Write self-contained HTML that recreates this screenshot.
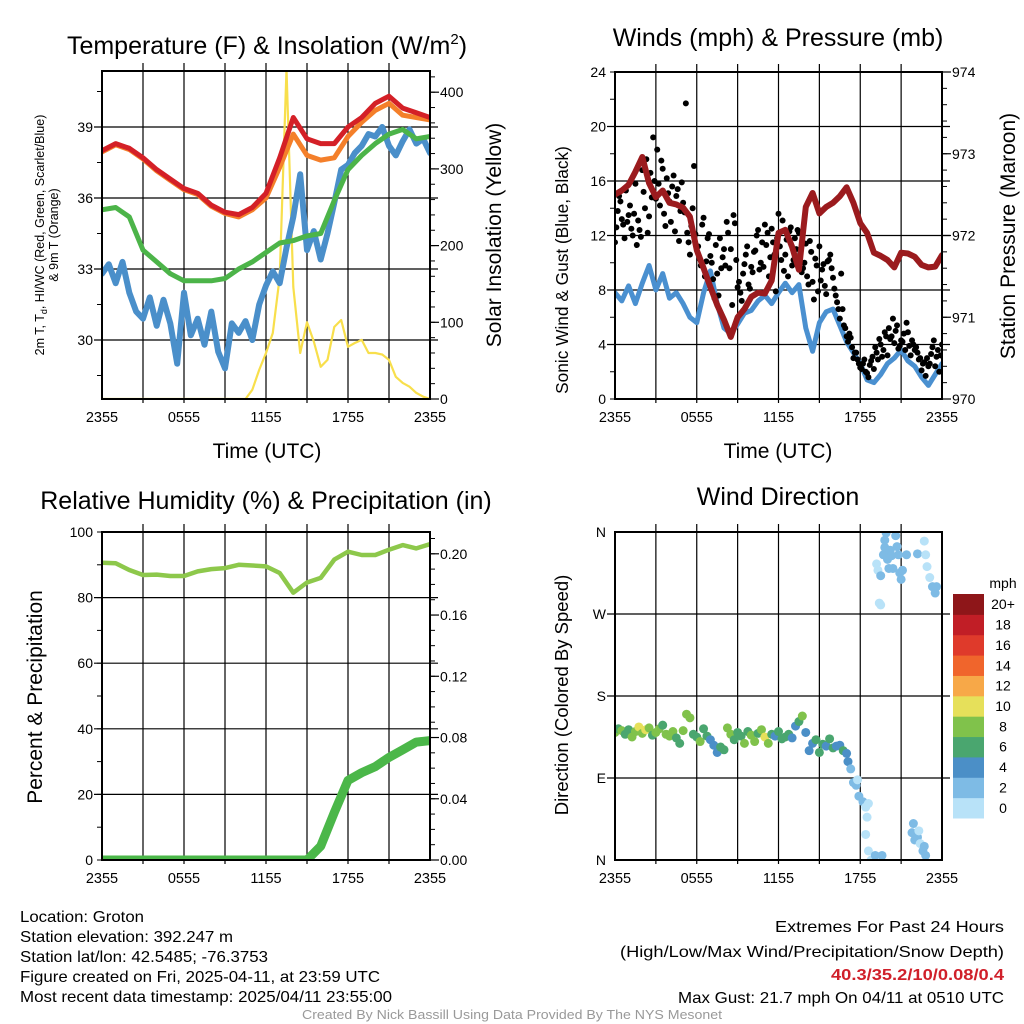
<!DOCTYPE html>
<html><head><meta charset="utf-8"><title>Groton Mesonet Meteogram</title>
<style>
html,body{margin:0;padding:0;background:#fff;}
svg{display:block;font-family:"Liberation Sans",Arial,sans-serif;}
</style></head>
<body>
<svg id="chart" xmlns="http://www.w3.org/2000/svg" width="1024" height="1024" viewBox="0 0 1024 1024">
<rect x="0" y="0" width="1024" height="1024" fill="#fff"/>
<defs>
<clipPath id="c1"><rect x="102" y="71" width="328" height="328"/></clipPath>
<clipPath id="c2"><rect x="615" y="72" width="327" height="327"/></clipPath>
<clipPath id="c3"><rect x="102" y="532" width="328" height="328"/></clipPath>
<clipPath id="c4"><rect x="615" y="532" width="327" height="328"/></clipPath>
</defs>
<g id="g1"></g>
<g id="g2"></g>
<g id="g3"></g>
<g id="g4"></g>

<text x="267" y="54" font-size="25" text-anchor="middle">Temperature (F) &amp; Insolation (W/m<tspan font-size="15" dy="-10">2</tspan><tspan dy="10">)</tspan></text>
<text x="778" y="46" font-size="25" text-anchor="middle">Winds (mph) &amp; Pressure (mb)</text>
<text x="266" y="509" font-size="25" text-anchor="middle">Relative Humidity (%) &amp; Precipitation (in)</text>
<text x="778" y="505" font-size="25" text-anchor="middle">Wind Direction</text>

<text x="267" y="458" font-size="21" text-anchor="middle">Time (UTC)</text>
<text x="778" y="458" font-size="21" text-anchor="middle">Time (UTC)</text>

<text transform="translate(44,235) rotate(-90)" font-size="12.5" text-anchor="middle">2m T, T<tspan font-size="9" dy="3">d</tspan><tspan dy="-3">, HI/WC (Red, Green, Scarlet/Blue)</tspan></text>
<text transform="translate(58,235) rotate(-90)" font-size="12.5" text-anchor="middle">&amp; 9m T (Orange)</text>
<text transform="translate(501,235) rotate(-90)" font-size="21" text-anchor="middle">Solar Insolation (Yellow)</text>
<text transform="translate(568,270) rotate(-90)" font-size="17.3" text-anchor="middle">Sonic Wind &amp; Gust (Blue, Black)</text>
<text transform="translate(1015,236) rotate(-90)" font-size="21" text-anchor="middle">Station Pressure (Maroon)</text>
<text transform="translate(42,697) rotate(-90)" font-size="21" text-anchor="middle">Percent &amp; Precipitation</text>
<text transform="translate(568,695) rotate(-90)" font-size="18.5" text-anchor="middle">Direction (Colored By Speed)</text>

<g font-size="16">
<text x="20" y="922" textLength="124" lengthAdjust="spacingAndGlyphs">Location: Groton</text>
<text x="20" y="942" textLength="213" lengthAdjust="spacingAndGlyphs">Station elevation: 392.247 m</text>
<text x="20" y="962" textLength="248" lengthAdjust="spacingAndGlyphs">Station lat/lon: 42.5485; -76.3753</text>
<text x="20" y="982" textLength="360" lengthAdjust="spacingAndGlyphs">Figure created on Fri, 2025-04-11, at 23:59 UTC</text>
<text x="20" y="1002" textLength="372" lengthAdjust="spacingAndGlyphs">Most recent data timestamp: 2025/04/11 23:55:00</text>
</g>
<g font-size="16">
<text x="775" y="932" textLength="229" lengthAdjust="spacingAndGlyphs">Extremes For Past 24 Hours</text>
<text x="620" y="957" textLength="384" lengthAdjust="spacingAndGlyphs">(High/Low/Max Wind/Precipitation/Snow Depth)</text>
<text x="831" y="980" textLength="173" lengthAdjust="spacingAndGlyphs" fill="#d0202a" font-weight="bold">40.3/35.2/10/0.08/0.4</text>
<text x="678" y="1003" textLength="326" lengthAdjust="spacingAndGlyphs">Max Gust: 21.7 mph On 04/11 at 0510 UTC</text>
</g>
<text x="302" y="1019" font-size="13" fill="#999" textLength="420" lengthAdjust="spacingAndGlyphs">Created By Nick Bassill Using Data Provided By The NYS Mesonet</text>
</svg>

<script>
// ---------- Panel 1 data ----------
const tempRed = [38.0,38.3,38.1,37.7,37.2,36.8,36.4,36.2,35.7,35.4,35.3,35.6,36.2,37.7,39.4,38.5,38.3,38.3,39.0,39.4,40.0,40.3,39.8,39.6,39.4];
const tempOrange = [37.95,38.25,38.05,37.65,37.15,36.75,36.35,36.15,35.65,35.35,35.2,35.5,36.0,37.3,38.7,37.8,37.6,37.7,38.6,39.2,39.7,40.0,39.5,39.4,39.3];
const tempGreen = [35.5,35.6,35.2,33.8,33.3,32.8,32.5,32.5,32.5,32.6,33.0,33.3,33.7,34.1,34.2,34.4,34.5,35.9,37.2,37.8,38.3,38.7,38.9,38.5,38.6];
const tempBlue = [32.8,33.2,32.4,33.3,32.0,31.2,30.9,31.8,30.6,31.7,30.7,29.0,32.0,30.2,30.9,29.8,31.2,29.5,28.8,30.7,30.3,30.8,30.0,31.5,32.3,32.9,32.4,33.9,35.2,37.0,33.8,34.6,33.4,34.5,35.8,37.2,37.4,37.9,38.2,38.7,38.6,39.0,38.2,37.8,38.4,38.9,38.3,38.5,37.9];
const solar = [0,0,0,0,0,0,0,0,0,0,0,0,0,0,0,0,0,0,0,0,0,0,12,38,60,86,159,430,146,60,100,75,42,51,94,103,68,73,77,60,60,58,51,29,21,16,8,3,0];
const tempTicks = [30,33,36,39];
const solarTicks = [0,100,200,300,400];
const timeLabels = ["2355","0555","1155","1755","2355"];
// ---------- Panel 2 data ----------
const pressure = [972.50,972.55,972.62,972.78,972.96,972.64,972.47,972.55,972.40,972.38,972.34,972.23,971.82,971.6,971.37,971.15,970.97,970.76,971.0,971.1,971.25,971.3,971.29,971.45,972.03,972.07,971.86,971.58,972.35,972.52,972.27,972.35,972.40,972.48,972.59,972.4,972.15,972.03,971.79,971.75,971.70,971.61,971.79,971.78,971.74,971.64,971.61,971.62,971.76];
const windSpeed = [7.8,7.2,8.3,7.0,8.5,9.8,8.0,9.2,7.4,7.8,7.0,6.0,5.6,7.8,9.4,7.0,5.2,4.8,5.5,6.3,6.5,7.2,7.6,7.0,7.8,8.5,7.8,8.4,5.2,3.5,5.6,6.4,6.6,5.4,4.2,3.4,2.6,1.4,1.2,1.8,2.6,3.0,3.6,2.8,2.4,1.6,1.0,1.8,2.6];
const gusts = [11.5,13.8,14.5,12.8,15.3,13.5,12.5,13.6,11.3,12.4,16.8,14.0,12.2,16.6,19.2,14.7,15.8,17.5,13.6,16.2,14.5,15.6,12.3,15.4,13.8,14.4,21.7,11.5,12.7,17.1,11.2,10.3,12.8,9.0,11.8,10.5,8.8,11.3,7.6,9.6,11.0,13.0,9.6,6.9,12.9,8.2,7.8,9.2,10.6,8.4,9.7,10.8,12.0,9.5,11.5,12.8,12.2,10.4,11.5,7.9,13.6,10.2,9.4,11.7,12.3,9.8,11.8,12.4,10.7,9.6,11.4,8.4,10.8,7.3,9.8,11.2,9.5,8.3,10.1,10.6,8.9,7.6,6.6,9.2,5.4,4.6,4.8,3.8,3.4,2.9,2.3,2.6,2.0,1.6,2.8,2.2,3.4,4.4,3.1,4.9,3.2,4.4,5.9,5.0,3.7,4.3,4.8,5.6,3.9,4.3,3.6,3.4,3.0,2.6,1.7,2.4,3.3,4.3,3.1,2.0,4.0];
const gustsOffset = [12.6,14.9,13.2,11.8,13.0,14.2,12.0,15.8,13.1,11.9,15.2,17.6,13.4,14.8,16.0,18.3,14.2,16.9,12.7,15.1,13.0,16.4,14.9,11.6,15.9,13.7,12.2,10.6,14.0,12.1,11.2,9.8,13.3,10.1,12.1,10.0,7.4,9.2,11.8,10.4,9.8,12.2,11.0,13.5,10.2,8.6,7.2,9.9,11.2,8.1,9.3,10.9,12.4,10.0,9.7,11.3,9.0,12.5,10.6,11.8,11.2,13.1,10.6,9.0,12.6,10.2,11.0,12.2,9.3,10.0,9.0,11.6,8.6,10.3,7.9,8.7,9.9,7.7,10.2,9.6,8.1,7.1,5.9,6.6,5.2,4.2,4.5,3.0,3.4,2.6,2.2,2.9,1.9,2.5,3.1,3.8,2.9,4.0,3.6,4.6,5.2,4.6,4.1,5.4,3.9,4.2,3.6,4.9,3.2,4.0,3.8,2.9,2.1,2.7,3.0,2.6,3.8,2.4,3.6,3.2];
const windTicks = [0,4,8,12,16,20,24];
const presTicks = [970,971,972,973,974];
// ---------- Panel 3 data ----------
const rh = [90.6,90.5,88.4,86.9,87.0,86.6,86.6,88.0,88.7,89.0,90.0,89.8,89.5,87.5,81.5,84.6,86.0,91.6,94.0,93.0,93.0,94.6,96.0,95.0,96.3];
const precip = [0,0,0,0,0,0,0,0,0,0,0,0,0,0,0,0,0.009,0.031,0.052,0.057,0.061,0.067,0.072,0.077,0.078];
const rhTicks = [0,20,40,60,80,100];
const precipTicks = ["0.00","0.04","0.08","0.12","0.16","0.20"];
// ---------- Panel 4 data ----------
const bandDeg = [140,144,142,138,143,135,141,146,139,143,145,137,140,144,148,138,136,141,134,128,142,160,156,138,135,130,144,136,132,126,118,124,121,145,138,132,140,136,128,141,137,130,139,143,135,128,138,136,141,133,135,138,134,147,152,158,140,120,128,132,118,127,125,133,123,125,126,120];
const bandSpd = [8,7,9,7,6,9,8,11,9,10,8,7,9,8,7,9,8,9,7,6,8,9,8,7,7,9,6,7,5,5,4,6,7,8,9,7,6,7,8,7,9,8,7,9,10,8,7,5,7,6,7,6,5,4,6,9,5,5,4,6,7,6,5,6,7,5,4,6];
const extraHours = [17.0,17.1,17.3,17.5,17.7,17.8,17.9,18.2,18.4,18.5,18.6,18.4,18.6,18.8,19.1,19.6,19.2,19.3,19.4,19.5,19.5,19.7,19.8,19.9,20.0,20.1,20.3,20.4,20.6,20.7,20.8,20.9,21.0,21.1,21.4,22.2,22.7,22.8,22.9,23.1,23.3,23.5,23.6,20.2,19.8,21.8,21.9,22.0,22.2,22.4,22.6,22.8,22.3,22.7];
const extraDeg = [117,108,100,85,82,88,70,64,58,47,62,28,10,0,5,5,325,318,282,280,312,335,343,359,330,320,334,320,356,344,335,315,308,318,335,336,350,335,322,310,300,293,300,340,351,30,40,22,25,18,10,5,32,15];
const extraSpd = [5,4,3,3,2,1,3,3,1,1,1,1,1,1,2,3,1,1,1,1,2,2,2,2,2,2,2,2,2,3,3,3,3,3,2,2,1,1,1,1,2,2,2,3,2,2,2,2,2,1,2,2,1,2];
const dirTicks = ["N","E","S","W","N"];
const dirTickDeg = [0,90,180,270,360];
const speedBins = ["0","2","4","6","8","10","12","14","16","18","20+"];
const binColors = ["#b8e2f8","#7ebbe5","#4b8fc7","#4aa66f","#80c24b","#e6e05a","#f7a848","#f0652c","#df3a2b","#c11e26","#8e1619"];

const NS = "http://www.w3.org/2000/svg";
function mk(tag, attrs, parent){ const e=document.createElementNS(NS,tag); for(const k in attrs) e.setAttribute(k,attrs[k]); parent.appendChild(e); return e; }

function panel(g, P, hTicksY, leftLabels, rightTicksY, rightLabels, minorL, minorR, clipId){
  const xs = h => P.x0 + h/24*(P.x1-P.x0);
  const grid = mk("g",{},g);
  
  
  for(let h=3; h<24; h+=3){ const l=mk("line",{x1:xs(h),x2:xs(h),y1:P.y0-8,y2:P.y1+4,stroke:"#000","stroke-width":1.2},grid);   }
  hTicksY.forEach(y=>{ const l=mk("line",{x1:P.x0-8,x2:P.x1+8,y1:y,y2:y,stroke:"#000","stroke-width":1.2},grid);   });
  minorL.forEach(y=>{ const l=mk("line",{x1:P.x0-5,x2:P.x0,y1:y,y2:y,stroke:"#000","stroke-width":1},grid);   });
  minorR.forEach(y=>{ const l=mk("line",{x1:P.x1,x2:P.x1+5,y1:y,y2:y,stroke:"#000","stroke-width":1},grid);   });
  rightTicksY.forEach(y=>{ const l=mk("line",{x1:P.x1,x2:P.x1+9,y1:y,y2:y,stroke:"#000","stroke-width":1.2},grid);   });
  const data = mk("g",{"clip-path":"url(#"+clipId+")"},g);
  
  
  const frame = mk("rect",{x:P.x0,y:P.y0,width:P.x1-P.x0,height:P.y1-P.y0,fill:"none",stroke:"#000","stroke-width":2},g);
  
  
  leftLabels.forEach(([y,t])=>{ const e=mk("text",{x:P.x0-9,y:y+5,"font-size":14,"text-anchor":"end"},g); e.textContent=t;   });
  rightLabels.forEach(([y,t])=>{ const e=mk("text",{x:P.x1+10,y:y+5,"font-size":14},g); e.textContent=t;   });
  timeLabels.forEach((t,i)=>{ const e=mk("text",{x:xs(i*6),y:P.y1+23,"font-size":14.5,"text-anchor":"middle"},g); e.textContent=t;   });
  return {xs, data};
}
function poly(layer, vals, step, xs, ys, color, w, name){
  const pts = vals.map((v,i)=>xs(i*step).toFixed(1)+","+ys(v).toFixed(1)).join(" ");
  const p = mk("polyline",{points:pts,fill:"none",stroke:color,"stroke-width":w,"stroke-linejoin":"round","stroke-linecap":"round"},layer);
  
  
  return p;
}
function range(a,b,s){ const r=[]; for(let v=a; v<=b+1e-9; v+=s) r.push(v); return r; }

// ---------- Panel 1 ----------
{
  const P={x0:102,x1:430,y0:71,y1:399};
  const ty = T => 127 - (T-39)*23.667;
  const sy = W => 399 - W*0.767;
  const {xs,data} = panel(document.getElementById("g1"),P, tempTicks.map(ty), tempTicks.map(t=>[ty(t),String(t)]),
    solarTicks.map(sy), solarTicks.map(t=>[sy(t),String(t)]), range(28.5,40.5,1.5).map(ty), range(0,420,20).map(sy), "c1");
  poly(data, solar, 0.5, xs, sy, "#f8df4c", 2.2, "solar-insolation-line");
  poly(data, tempBlue, 0.5, xs, ty, "#4a8fca", 6, "wind-chill-line");
  poly(data, tempGreen, 1, xs, ty, "#4cb449", 5, "dewpoint-line");
  poly(data, tempOrange, 1, xs, ty, "#f47f2a", 5, "9m-temperature-line");
  poly(data, tempRed, 1, xs, ty, "#d42027", 5, "2m-temperature-line");
}
// ---------- Panel 2 ----------
{
  const P={x0:615,x1:942,y0:72,y1:399};
  const wy = v => 399 - v*(327/24);
  const py = p => 399 - (p-970)*(327/4);
  const {xs,data} = panel(document.getElementById("g2"),P, windTicks.slice(1,-1).map(wy), windTicks.map(t=>[wy(t),String(t)]),
    presTicks.map(py), presTicks.map(t=>[py(t),String(t)]), range(0,24,2).map(wy), range(970,974,0.2).map(py), "c2");
  poly(data, windSpeed, 0.5, xs, wy, "#4a90d0", 5, "sonic-wind-line");
  gusts.forEach((v,i)=>{
    const c = mk("circle",{cx:xs(i*0.2),cy:wy(v),r:3,fill:"#000"},data);
    
    
  });
  gustsOffset.forEach((v,i)=>{
    const c = mk("circle",{cx:xs(0.1+i*0.2),cy:wy(v),r:3,fill:"#000"},data);
    
    
  });
  poly(data, pressure, 0.5, xs, py, "#9b1b1e", 6, "pressure-line");
}
// ---------- Panel 3 ----------
{
  const P={x0:102,x1:430,y0:532,y1:860};
  const ry = v => 860 - v*3.28;
  const qy = v => 860 - v*1531;
  const {xs,data} = panel(document.getElementById("g3"),P, rhTicks.slice(1,-1).map(ry), rhTicks.map(t=>[ry(t),String(t)]),
    precipTicks.map(t=>qy(+t)), precipTicks.map(t=>[qy(+t),t]), range(0,100,10).map(ry), range(0,0.21,0.01).map(qy), "c3");
  poly(data, rh, 1, xs, ry, "#8dc84b", 4.5, "relative-humidity-line");
  poly(data, precip, 1, xs, qy, "#4bb749", 9, "precipitation-line");
}
// ---------- Panel 4 ----------
{
  const P={x0:615,x1:942,y0:532,y1:860};
  const dy = d => 860 - d*(328/360);
  const {xs,data} = panel(document.getElementById("g4"),P, dirTickDeg.slice(1,-1).map(dy), dirTicks.map((t,i)=>[dy(dirTickDeg[i]),t]),
    [], [], [], [], "c4");
  const col = s => binColors[Math.min(10,Math.floor(s/2))];
  bandDeg.forEach((d,i)=>{
    const c = mk("circle",{cx:xs(i*0.25),cy:dy(d),r:4.5,fill:col(bandSpd[i])},data);
    
    
  });
  extraDeg.forEach((d,i)=>{
    const c = mk("circle",{cx:xs(extraHours[i]),cy:dy(d),r:4.5,fill:col(extraSpd[i])},data);
    
    
  });
  const g = document.getElementById("g4");
  const leg = mk("g",{},g);
  
  
  const bh = (818-594)/11;
  speedBins.forEach((lab,i)=>{
    const y = 818 - (i+1)*bh;
    const r = mk("rect",{x:953,y:y,width:31,height:bh+0.5,fill:binColors[i]},leg);
    
    
    const t = mk("text",{x:1003,y:y+bh/2+5,"font-size":14,"text-anchor":"middle"},leg);
    t.textContent = lab;
    
    
  });
  const u = mk("text",{x:1003,y:588,"font-size":14,"text-anchor":"middle"},leg);
  u.textContent = "mph";
  
  
}
</script>
</body></html>
